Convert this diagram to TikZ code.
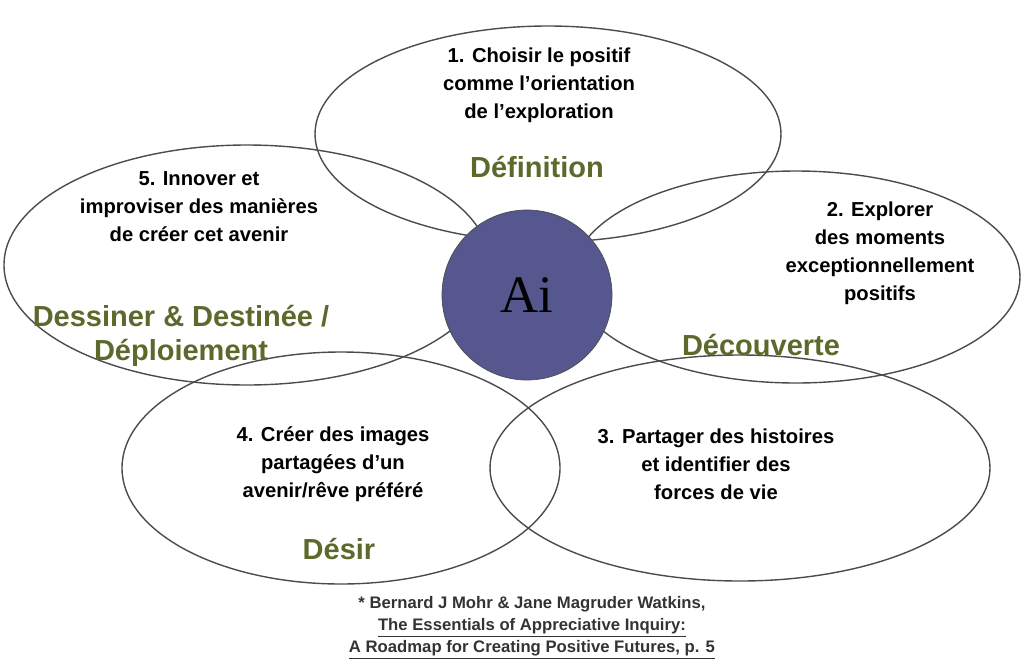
\documentclass[tikz,border=0pt]{standalone}
\usepackage{fontspec}
\setmainfont[Ligatures=ResetAll]{Liberation Sans}
\usetikzlibrary{shapes}
\definecolor{aiblue}{HTML}{55578E}
\definecolor{olive}{HTML}{5B6A2C}
\tikzset{
	petal/.style={black!70,line width=0.8pt},
	step text/.style={align=center,font=\fontsize{11.5}{16}\selectfont\bfseries},
	phase/.style={align=center,text=olive,font=\fontsize{16.5}{19}\selectfont\bfseries}
}
\begin{document}
\begin{tikzpicture}[x=0.02cm,y=-0.02cm]
	    \useasboundingbox (0,0) rectangle (1024,670);
	    % petals
	    \draw [petal] (548,134) ellipse [x radius=233,y radius=108];
	    \draw [petal] (796,277) ellipse [x radius=224,y radius=106];
	    \draw [petal] (740,468) ellipse [x radius=250,y radius=113];
	    \draw [petal] (341,468) ellipse [x radius=219,y radius=116];
	    \draw [petal] (247,265) ellipse [x radius=243,y radius=120];
	    % centre
	    \node [circle,fill=aiblue,draw=black!70,minimum size=170*0.02cm,font=\fontsize{30}{30}\selectfont] (ai) at (527,295) {\fontspec{Liberation Serif}Ai};
	    % steps
	    \node [step text] (s1) at (539,85) {1. Choisir le positif\\comme l'orientation\\de l'exploration};
	    \node [step text] (s2) at (880,253) {2. Explorer\\des moments\\exceptionnellement\\positifs};
	    \node [step text] (s3) at (716,464) {3. Partager des histoires\\et identifier des\\forces de vie};
	    \node [step text] (s4) at (333,464) {4. Créer des images\\partagées d'un\\avenir/rêve préféré};
	    \node [step text] (s5) at (199,207) {5. Innover et\\improviser des manières\\de créer cet avenir};
	    % phases
	    \node [phase] (p1) at (537,167) {Définition};
	    \node [phase] (p2) at (761,345) {Découverte};
	    \node [phase] (p3) at (339,549) {Désir};
	    \node [phase] (p5) at (181,336) {Dessiner \& Destinée /\\Déploiement};
	    % source
	    \node [align=center,font=\fontsize{9.5}{12.5}\selectfont\bfseries,text=black!80] (src) at (532,628)
	      {* Bernard J Mohr \& Jane Magruder Watkins,\\\underline{The Essentials of Appreciative Inquiry:}\\\underline{A Roadmap for Creating Positive Futures, p. 5}};
	  \end{tikzpicture}
\end{document}
